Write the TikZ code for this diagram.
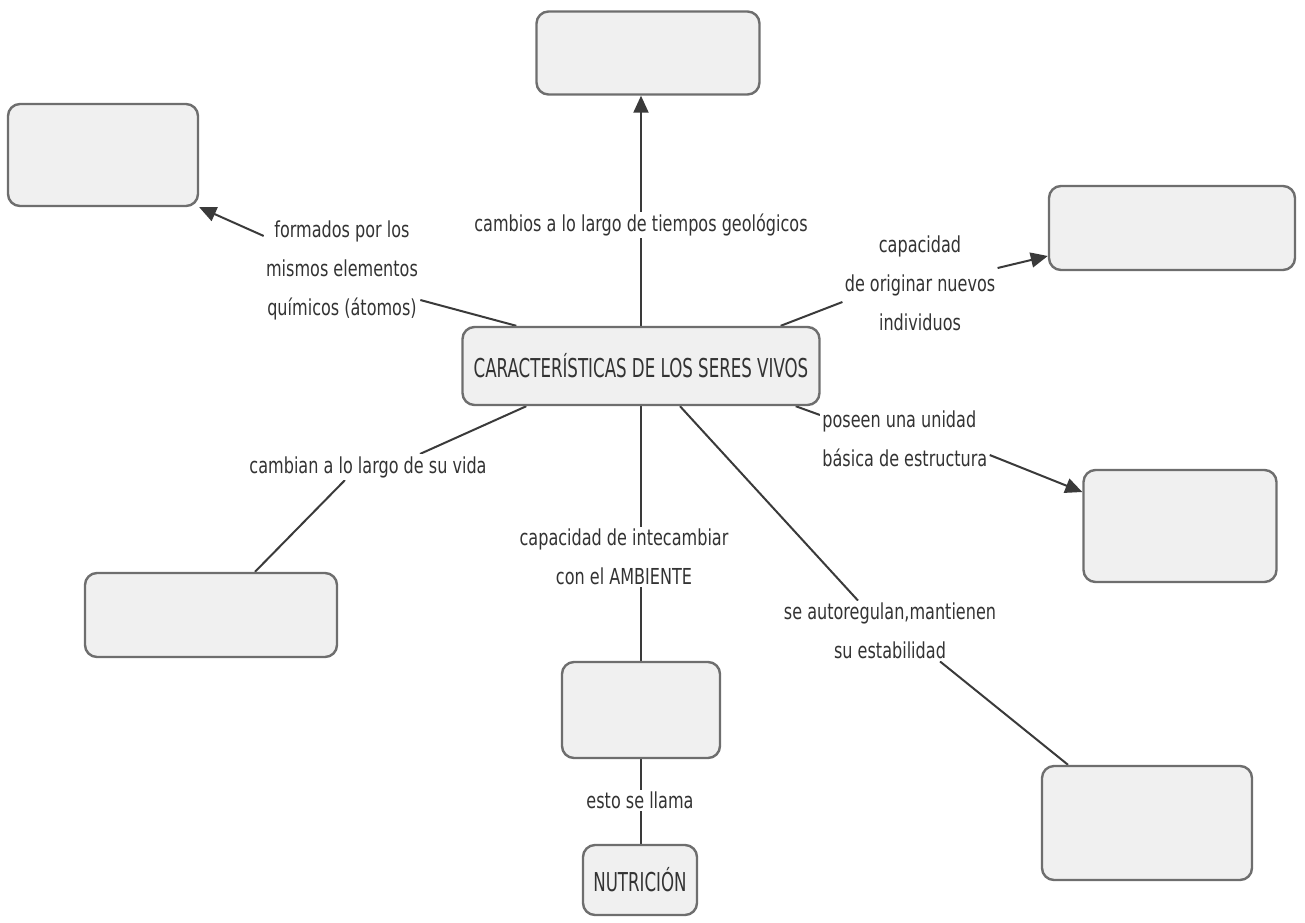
\documentclass[tikz,border=0pt]{standalone}
\usepackage{fontspec}
\setmainfont{DejaVu Sans}[FakeStretch=0.73]
\newfontfamily\condfont{DejaVu Sans}[FakeStretch=0.64]
\usetikzlibrary{arrows.meta,backgrounds}
\definecolor{boxfill}{HTML}{F0F0F0}
\definecolor{boxline}{HTML}{6E6E6E}
\definecolor{lnk}{HTML}{3A3A3A}
\definecolor{txt}{HTML}{333333}
\begin{document}
\begin{tikzpicture}[x=0.5pt,y=-0.5pt,
  box/.style={draw=boxline, fill=boxfill, rounded corners=6pt, line width=1.2pt, inner sep=0pt},
  ctext/.style={text=txt, font=\condfont\fontsize{13}{15}\selectfont},
  lbl/.style={fill=white, inner sep=1pt, align=center, text=txt, font=\fontsize{11}{19.5}\selectfont},
  conn/.style={draw=lnk, line width=1pt},
  arr/.style={conn, -{Triangle[length=8.5pt,width=7.5pt]}}]
\useasboundingbox (0,0) rectangle (1305,922);
% boxes
\node[box, ctext, minimum width=178.5pt, minimum height=39pt] (c) at (641,366) {CARACTERÍSTICAS DE LOS SERES VIVOS};
\node[box, minimum width=111.5pt, minimum height=41.5pt] (top) at (648,53) {};
\node[box, minimum width=95pt, minimum height=51pt] (tl) at (103,155) {};
\node[box, minimum width=123pt, minimum height=42pt] (rt) at (1172,228) {};
\node[box, minimum width=96.5pt, minimum height=56pt] (rm) at (1180,526) {};
\node[box, minimum width=126pt, minimum height=42pt] (lb) at (211,615) {};
\node[box, minimum width=79pt, minimum height=48pt] (cb) at (641,710) {};
\node[box, ctext, minimum width=57pt, minimum height=35pt] (nut) at (640,880) {NUTRICIÓN};
\node[box, minimum width=105pt, minimum height=57pt] (br) at (1147,823) {};
% labels
\node[lbl] (lf) at (342,270) {formados por los\\mismos elementos\\químicos (átomos)};
\node[lbl] (lcam) at (641,225) {cambios a lo largo de tiempos geológicos};
\node[lbl] (lcap) at (920,283) {capacidad\\de originar nuevos\\individuos};
\node[lbl, align=left, anchor=west] (lpos) at (820,439) {poseen una unidad\\básica de estructura};
\node[lbl] (lvida) at (368,467) {cambian a lo largo de su vida};
\node[lbl] (lint) at (624,557) {capacidad de intecambiar\\con el AMBIENTE};
\node[lbl] (lauto) at (890,631) {se autoregulan,mantienen\\su estabilidad};
\node[lbl] (lesto) at (640,800) {esto se llama};
% connectors
\begin{scope}[on background layer]
\draw[conn] ([xshift=27.5pt]c.north west) -- ([yshift=-15pt]lf.east);
\draw[arr] ([yshift=-9pt]lf.north west) -- (tl.south east);
\draw[arr] (c.north) -- (c.north |- top.south);
\draw[conn] ([xshift=-20pt]c.north east) -- ([yshift=-9.5pt]lcap.west);
\draw[arr] ([yshift=7.5pt]lcap.east) -- ([yshift=-14pt]rt.west);
\draw[conn] ([xshift=-12.5pt]c.south east) -- ([yshift=12pt]lpos.west);
\draw[arr] ([yshift=-8pt]lpos.east) -- ([yshift=17pt]rm.west);
\draw[conn] ([xshift=32.5pt]c.south west) -- ([xshift=26pt]lvida.north);
\draw[conn] ([xshift=-11.5pt]lvida.south) -- ([xshift=22pt]lb.north);
\draw[conn] (c.south) -- (c.south |- cb.north);
\draw[conn] (cb.south) -- (cb.south |- nut.north);
\draw[conn] ([xshift=19.5pt]c.south) -- ([xshift=-16pt]lauto.north);
\draw[conn] ([xshift=25pt]lauto.south) -- ([xshift=-39.5pt]br.north);
\end{scope}
\end{tikzpicture}
\end{document}
